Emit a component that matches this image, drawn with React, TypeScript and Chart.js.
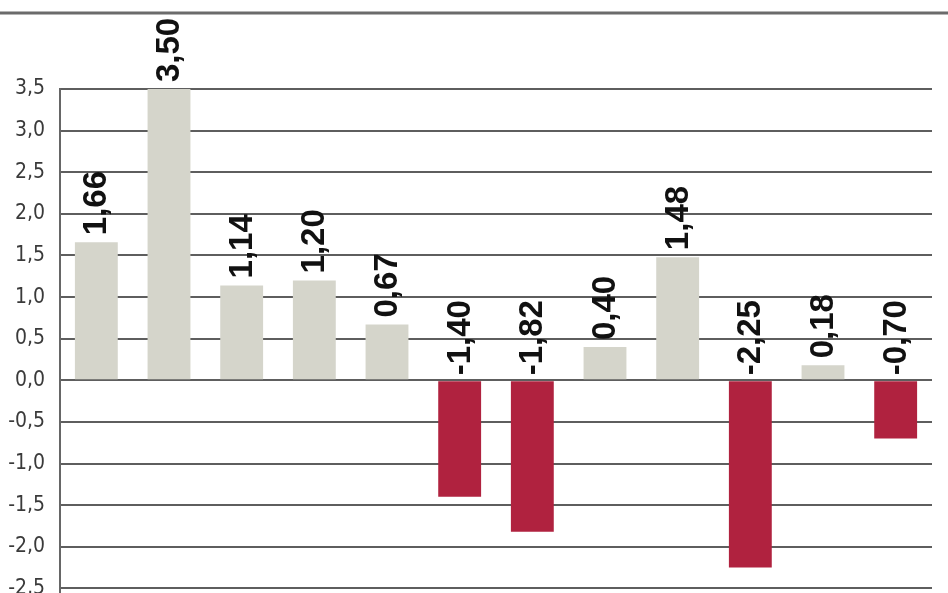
import React, { useEffect, useRef } from "react";
import { Chart, registerables } from "chart.js";

Chart.register(...registerables);

const categories = ["1", "2", "3", "4", "5", "6", "7", "8", "9", "10", "11", "12"];
const values = [1.66, 3.5, 1.14, 1.2, 0.67, -1.4, -1.82, 0.4, 1.48, -2.25, 0.18, -0.7];
const tickValues = [-2.5, -2.0, -1.5, -1.0, -0.5, 0.0, 0.5, 1.0, 1.5, 2.0, 2.5, 3.0, 3.5];

const POS_COLOR = "#d5d5cb";
const NEG_COLOR = "#b0223f";

const fmt = (v: number, d: number) => v.toFixed(d).replace(".", ",");

const labelPlugin = {
  id: "valueLabels",
  afterDatasetsDraw(chart: any) {
    const ctx = chart.ctx;
    const meta = chart.getDatasetMeta(0);
    const yScale = chart.scales.y;
    const zeroY = yScale.getPixelForValue(0);
    ctx.save();
    ctx.font = "bold 33px 'Liberation Sans', Arial, sans-serif";
    ctx.fillStyle = "#111111";
    ctx.textAlign = "left";
    ctx.textBaseline = "middle";
    meta.data.forEach((bar: any, i: number) => {
      const v = values[i];
      const startY = v >= 0 ? bar.y - 7 : zeroY - 5;
      ctx.save();
      ctx.translate(bar.x, startY);
      ctx.rotate(-Math.PI / 2);
      ctx.fillText(fmt(v, 2), 0, 1);
      ctx.restore();
    });
    ctx.restore();
  },
  beforeDraw(chart: any) {
    const ctx = chart.ctx;
    ctx.save();
    ctx.strokeStyle = "#6b6b6b";
    ctx.lineWidth = 3;
    ctx.beginPath();
    ctx.moveTo(0, 13);
    ctx.lineTo(chart.width, 13);
    ctx.stroke();
    ctx.restore();
  },
};

export default function App() {
  const ref = useRef<HTMLCanvasElement | null>(null);
  useEffect(() => {
    if (!ref.current) return;
    const chart = new Chart(ref.current, {
      type: "bar",
      data: {
        labels: categories,
        datasets: [
          {
            data: values,
            backgroundColor: values.map((v) => (v >= 0 ? POS_COLOR : NEG_COLOR)),
            borderWidth: 0,
            categoryPercentage: 1,
            barPercentage: 0.59,
          },
        ],
      },
      options: {
        responsive: false,
        animation: false,
        layout: { padding: { top: 89, bottom: 20, right: 16, left: 0 } },
        plugins: { legend: { display: false }, tooltip: { enabled: false } },
        scales: {
          x: { display: false, grid: { display: false } },
          y: {
            min: -2.56,
            max: 3.5,
            afterBuildTicks: (scale: any) => {
              scale.ticks = tickValues.map((v) => ({ value: v }));
            },
            afterFit: (scale: any) => {
              scale.width = 60;
            },
            grid: {
              color: "#5e5e5e",
              lineWidth: 2,
              drawTicks: false,
            },
            border: { display: true, color: "#666666", width: 2 },
            ticks: {
              padding: 15,
              color: "#3a3a3a",
              font: { family: "'DejaVu Sans Condensed', 'Liberation Sans Narrow', sans-serif", size: 21 },
              callback: (v: any) => fmt(Number(v), 1),
            },
          },
        },
      },
      plugins: [labelPlugin],
    });
    return () => chart.destroy();
  }, []);
  return (
    <div
      style={{
        position: "fixed",
        left: 0,
        top: 0,
        width: 948,
        height: 593,
        overflow: "hidden",
        background: "#ffffff",
      }}
    >
      <canvas ref={ref} width={948} height={621} style={{ display: "block" }} />
    </div>
  );
}
